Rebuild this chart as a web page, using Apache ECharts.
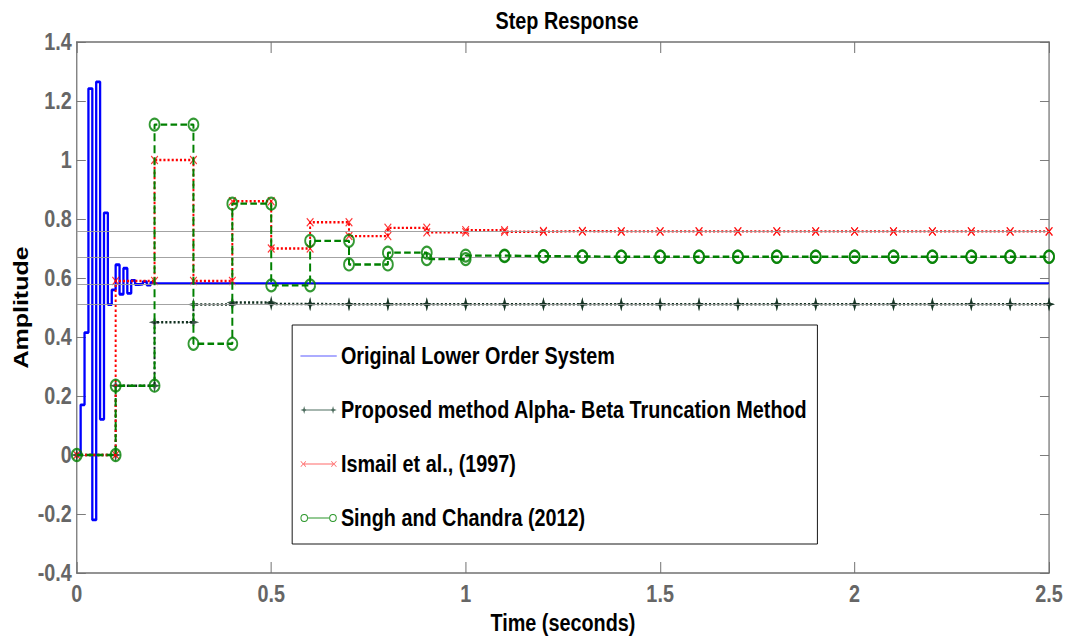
<!DOCTYPE html>
<html>
<head>
<meta charset="utf-8">
<title>Step Response</title>
<script src="https://cdn.jsdelivr.net/npm/echarts@6/dist/echarts.min.js"></script>
<style>
  html, body { margin: 0; padding: 0; background: #fff; }
  #frame { width: 1073px; height: 642px; overflow: hidden; }
  /* the figure is laid out 1300px wide and narrowed to the 1073px frame */
  #chart { width: 1300px; height: 642px; transform: scaleX(0.82538); transform-origin: 0 0; }
</style>
</head>
<body>
<div id="frame"><div id="chart"></div></div>
<script>
// Original lower order system, sampled every 0.01 s (held to the end of the run)
const originalT = [0, 0.01, 0.02, 0.03, 0.04, 0.05, 0.06, 0.07, 0.08, 0.09, 0.10,
  0.11, 0.12, 0.13, 0.14, 0.15, 0.16, 0.17, 0.18, 0.19, 0.20, 2.5];
const originalY = [0, 0.17, 0.415, 1.242, -0.22, 1.265, 0.121, 0.821, 0.51, 0.56, 0.645,
  0.545, 0.633, 0.548, 0.592, 0.578, 0.579, 0.588, 0.576, 0.585, 0.581, 0.581];

// Reduced models, sampled every 0.1 s
const sampleT = [0, 0.1, 0.2, 0.3, 0.4, 0.5, 0.6, 0.7, 0.8, 0.9, 1.0, 1.1, 1.2, 1.3,
  1.4, 1.5, 1.6, 1.7, 1.8, 1.9, 2.0, 2.1, 2.2, 2.3, 2.4, 2.5];
const proposedY = [0, 0.235, 0.45, 0.51, 0.517, 0.512, 0.511, 0.511, 0.511, 0.511,
  0.511, 0.511, 0.511, 0.511, 0.511, 0.511, 0.511, 0.511, 0.511, 0.511,
  0.511, 0.511, 0.511, 0.511, 0.511, 0.511];
const ismailY = [0, 0.59, 1.0, 0.59, 0.86, 0.70, 0.789, 0.742, 0.77, 0.755,
  0.762, 0.757, 0.759, 0.758, 0.758, 0.758, 0.758, 0.758, 0.758, 0.758,
  0.758, 0.758, 0.758, 0.758, 0.758, 0.758];
const singhY = [0, 0.235, 1.12, 0.377, 0.852, 0.575, 0.726, 0.646, 0.686, 0.664,
  0.676, 0.674, 0.673, 0.672, 0.672, 0.672, 0.672, 0.672, 0.672, 0.672,
  0.672, 0.672, 0.672, 0.672, 0.672, 0.672];

// Steady-state levels drawn as thin reference lines
const steadyY = [0.581, 0.511, 0.758, 0.672];

const xTicks = { min: 0, max: 2.5, interval: 0.5 };
const yTicks = { min: -0.4, max: 1.4, interval: 0.2 };

const names = [
  'Original Lower Order System',
  'Proposed method Alpha- Beta Truncation Method',
  'Ismail et al., (1997)',
  'Singh and Chandra (2012)'
];

const FONT = '"Liberation Sans", Arial, Helvetica, sans-serif';

function pairs(ts, ys) { return ts.map((t, i) => [t, ys[i]]); }
// stair vertices: each held level has a marker at both of its corners
function stairVertices(ts, ys) {
  const out = [];
  ts.forEach((t, i) => {
    if (i > 0) out.push([t, ys[i - 1]]);
    out.push([t, ys[i]]);
  });
  return out;
}

// symbol paths
const starPath = 'path://M0,-10 L2.2,-2.2 L10,0 L2.2,2.2 L0,10 L-2.2,2.2 L-10,0 L-2.2,-2.2 Z';
const crossPath = 'path://M-5,-4 L-4,-5 L0,-1 L4,-5 L5,-4 L1,0 L5,4 L4,5 L0,1 L-4,5 L-5,4 L-1,0 Z';

// legend icon paths in a 44x12 box: short line with the marker at each end
const W = 44;
const bounds = `M0,0 L0.05,0 L0,0.05 Z M${W},12 L${W - 0.05},12 L${W},11.95 Z `;
function star(cx) { return `M${cx},2 L${cx+1},5.1 L${cx+4.5},6 L${cx+1},6.9 L${cx},10 L${cx-1},6.9 L${cx-4.5},6 L${cx-1},5.1 Z `; }
function cross(cx) { return `M${cx-3.5},3.6 L${cx-2.8},3 L${cx},5.4 L${cx+2.8},3 L${cx+3.5},3.6 L${cx+0.7},6 L${cx+3.5},8.4 L${cx+2.8},9 L${cx},6.6 L${cx-2.8},9 L${cx-3.5},8.4 L${cx-0.7},6 Z `; }
function ring(cx) { return `M${cx+4.6},6 A4.6,4 0 1,0 ${cx-4.6},6 A4.6,4 0 1,0 ${cx+4.6},6 Z M${cx+3.4},6 A3.4,2.9 0 1,1 ${cx-3.4},6 A3.4,2.9 0 1,1 ${cx+3.4},6 Z `; }
function bar(x0, x1) { return `M${x0},5.5 L${x1},5.5 L${x1},6.6 L${x0},6.6 Z `; }
const legendIcons = [
  'path://' + bounds + bar(0, W),
  'path://' + bounds + bar(4, W - 4) + star(4.5) + star(W - 4.5),
  'path://' + bounds + bar(4, W - 4) + cross(3.5) + cross(W - 3.5),
  'path://' + bounds + bar(9, W - 9) + ring(4.6) + ring(W - 4.6)
];
const legendColors = ['#5a5aff', '#4f6e60', '#ff6a6a', '#2a962a'];

const axisColor = '#707070';
const labelColor = '#666666';

const chart = echarts.init(document.getElementById('chart'), null, { renderer: 'svg' });

const option = {
  animation: false,
  backgroundColor: '#ffffff',
  title: {
    text: 'Step Response',
    left: 682,
    textAlign: 'center',
    top: 4,
    textStyle: { fontFamily: FONT, fontWeight: 'bold', fontSize: 24, color: '#000' }
  },
  grid: { left: 93, right: 29, top: 42, bottom: 69, outerBoundsMode: 'none' },
  legend: {
    orient: 'vertical',
    left: 354,
    top: 325,
    padding: [19, 12, 14, 10],
    itemGap: 30,
    itemWidth: W,
    itemHeight: 12,
    backgroundColor: '#ffffff',
    borderColor: '#000000',
    borderWidth: 1,
    borderRadius: 0,
    textStyle: { fontFamily: FONT, fontWeight: 'bold', fontSize: 24, color: '#000' },
    data: names.map((n, i) => ({ name: n, icon: legendIcons[i], itemStyle: { color: legendColors[i] } }))
  },
  xAxis: [{
    type: 'value',
    min: xTicks.min, max: xTicks.max, interval: xTicks.interval,
    name: 'Time (seconds)',
    nameLocation: 'middle',
    nameGap: 38,
    nameMoveOverlap: false,
    nameTextStyle: { fontFamily: FONT, fontWeight: 'bold', fontSize: 24, color: '#000' },
    axisLine: { show: true, onZero: false, lineStyle: { color: axisColor, width: 1.5 } },
    axisTick: { show: true, inside: true, length: 11, lineStyle: { color: axisColor, width: 1.2 } },
    axisLabel: { margin: 9, fontFamily: FONT, fontWeight: 'bold', fontSize: 24, color: labelColor },
    splitLine: { show: false }
  }, {
    type: 'value', position: 'top',
    min: xTicks.min, max: xTicks.max, interval: xTicks.interval,
    axisLine: { show: true, onZero: false, lineStyle: { color: axisColor, width: 1.5 } },
    axisTick: { show: true, inside: true, length: 11, lineStyle: { color: axisColor, width: 1.2 } },
    axisLabel: { show: false },
    splitLine: { show: false }
  }],
  yAxis: [{
    type: 'value',
    min: yTicks.min, max: yTicks.max, interval: yTicks.interval,
    name: 'Amplitude',
    nameLocation: 'middle',
    nameGap: 55,
    nameMoveOverlap: false,
    nameRotate: 90,
    nameTextStyle: { fontFamily: FONT, fontWeight: 'bold', fontSize: 25, color: '#000' },
    axisLine: { show: true, onZero: false, lineStyle: { color: axisColor, width: 1.5 } },
    axisTick: { show: true, inside: true, length: 11, lineStyle: { color: axisColor, width: 1 } },
    axisLabel: {
      margin: 6, fontFamily: FONT, fontWeight: 'bold', fontSize: 24, color: labelColor,
      formatter: v => String(Math.round(v * 10) / 10)
    },
    splitLine: { show: false }
  }, {
    type: 'value', position: 'right',
    min: yTicks.min, max: yTicks.max, interval: yTicks.interval,
    axisLine: { show: true, onZero: false, lineStyle: { color: axisColor, width: 1.5 } },
    axisTick: { show: true, inside: true, length: 11, lineStyle: { color: axisColor, width: 1 } },
    axisLabel: { show: false },
    splitLine: { show: false }
  }],
  series: [
    {
      name: 'steady',
      type: 'line',
      data: [],
      silent: true,
      z: 1,
      markLine: {
        silent: true,
        symbol: 'none',
        label: { show: false },
        lineStyle: { color: '#9a9a9a', width: 1, type: 'solid' },
        data: steadyY.map(v => ({ yAxis: v }))
      }
    },
    {
      name: names[0],
      type: 'line',
      step: 'end',
      data: pairs(originalT, originalY),
      showSymbol: false,
      symbol: 'none',
      lineStyle: { color: '#0000ff', width: 2.8 },
      itemStyle: { color: '#0000ff' },
      z: 2
    },
    {
      name: names[1],
      type: 'line',
      step: 'end',
      data: pairs(sampleT, proposedY),
      showSymbol: false,
      symbol: 'none',
      lineStyle: { color: '#0f2e1e', width: 2.4, type: [2.5, 2.5] },
      itemStyle: { color: '#0f2e1e' },
      z: 3
    },
    {
      name: names[1],
      type: 'scatter',
      data: stairVertices(sampleT, proposedY),
      symbol: starPath,
      symbolSize: 14,
      itemStyle: { color: '#0f2e1e' },
      z: 3
    },
    {
      name: names[2],
      type: 'line',
      step: 'end',
      data: pairs(sampleT, ismailY),
      showSymbol: false,
      symbol: 'none',
      lineStyle: { color: '#ff0000', width: 2.4, type: [2.5, 2.5] },
      itemStyle: { color: '#ff0000' },
      z: 4
    },
    {
      name: names[2],
      type: 'scatter',
      data: stairVertices(sampleT, ismailY),
      symbol: crossPath,
      symbolSize: 9,
      itemStyle: { color: '#ff0000' },
      z: 4
    },
    {
      name: names[3],
      type: 'line',
      step: 'end',
      data: pairs(sampleT, singhY),
      showSymbol: false,
      symbol: 'none',
      lineStyle: { color: '#008000', width: 2.4, type: [8, 4] },
      itemStyle: { color: '#008000' },
      z: 5
    },
    {
      name: names[3],
      type: 'scatter',
      data: stairVertices(sampleT, singhY),
      symbol: 'circle',
      symbolSize: 12,
      itemStyle: { color: 'rgba(255,255,255,0)', borderColor: '#008000', borderWidth: 2.2 },
      z: 5
    }
  ]
};

chart.setOption(option);
</script>
</body>
</html>
